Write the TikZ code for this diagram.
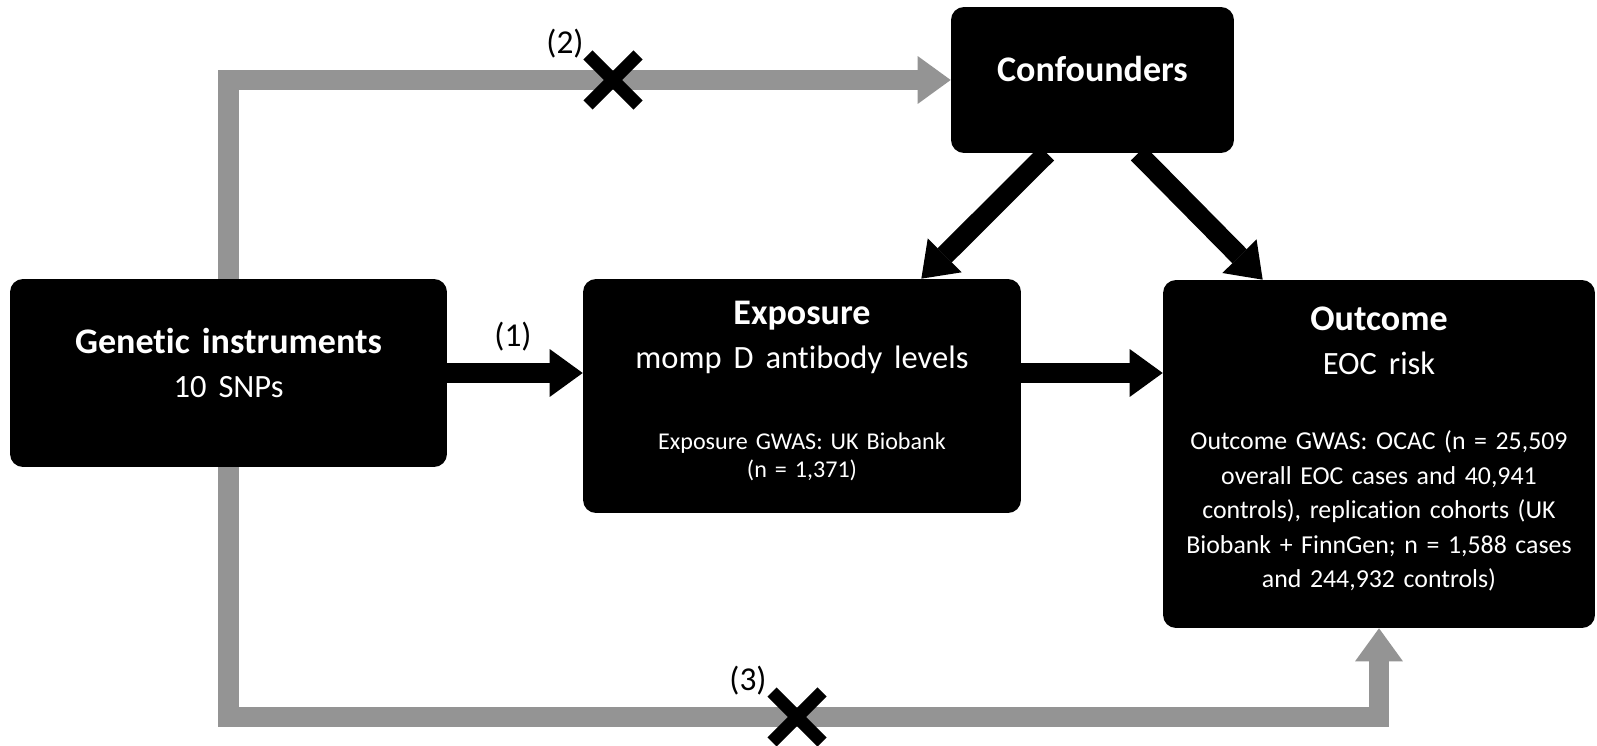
\documentclass[tikz,border=0pt]{standalone}
\usepackage{fontspec}
\setmainfont[Ligatures=CommonOff]{Carlito}
\usetikzlibrary{arrows.meta,positioning}

\definecolor{arrowgrey}{RGB}{148,148,148}
\newcommand{\subline}{\fontsize{18.5}{24.5}\selectfont}

\tikzset{
	box/.style={fill=black, rounded corners=0.26cm, inner sep=0pt},
	head/.style={text=white, text width=8.4cm, align=center, anchor=base, font=\fontsize{20.5}{24.5}\selectfont},
	note/.style={text=white, text width=8.4cm, align=center, anchor=base, font=\fontsize{14.7}{19.6}\selectfont},
	blackarrow/.style={draw=black, line width=11.4pt, -{Triangle[width=27.3pt,length=18.8pt,line width=0pt]}},
	greyarrow/.style={draw=arrowgrey, line width=11.4pt, -{Triangle[width=27.3pt,length=18.8pt,line width=0pt]}},
	cross/.style={draw=black, line width=7.4pt},
	tag/.style={font=\fontsize{19}{23}\selectfont}
}

\begin{document}
\begin{tikzpicture}[x=0.02cm,y=-0.02cm]
	\useasboundingbox (0,0) rectangle (1597,746);
	
	% Boxes
	\node[box, minimum width=8.74cm, minimum height=3.76cm] (gen) at (228.5,373) {};
	\node[box, minimum width=8.76cm, minimum height=4.68cm] (expo) at (802,396) {};
	\node[box, minimum width=8.64cm, minimum height=6.96cm] (outc) at (1379,454) {};
	\node[box, minimum width=5.66cm, minimum height=2.92cm] (conf) at (1092.5,80) {};
	
	% Texts
	\node[head] (gentext) at (228.5,354) {\textbf{Genetic instruments}\\{\subline 10 SNPs}};
	\node[head] (expotext) at (802,325) {\textbf{Exposure}\\{\subline momp D antibody levels}};
	\node[note, font=\fontsize{13.7}{15.7}\selectfont] (exponote) at (802,450) {Exposure GWAS: UK Biobank\\(n = 1,371)};
	\node[head] (outctext) at (1379,331) {\textbf{Outcome}\\{\subline EOC risk}};
	\node[note] (outcnote) at (1379,450) {Outcome GWAS: OCAC (n = 25,509\\overall EOC cases and 40,941\\controls), replication cohorts (UK\\Biobank + FinnGen; n = 1,588 cases\\and 244,932 controls)};
	\node[head] (conftext) at (1092.5,82) {\textbf{Confounders}};
	
	% Grey paths
	\draw[greyarrow] (gen.north) |- (conf.west);
	\draw[greyarrow] (gen.south) -- ++(0,250) -| (outc.south);
	
	% Black arrows
	\draw[blackarrow] (gen.east) -- (gen.east -| expo.west);
	\draw[blackarrow] (gen.east -| expo.east) -- (gen.east -| outc.west);
	\draw[blackarrow] ([xshift=-0.91cm]conf.south) -- ([xshift=-2cm]expo.north east);
	\draw[blackarrow] ([xshift=0.91cm]conf.south) -- ([xshift=2cm]outc.north west);
	
	% Crosses
	\coordinate (cr2) at (613,80);
	\coordinate (cr3) at (797,717);
	\foreach \c in {cr2,cr3} {
		\draw[cross] ([shift={(-25,-25)}]\c) -- ([shift={(25,25)}]\c);
		\draw[cross] ([shift={(-25,25)}]\c) -- ([shift={(25,-25)}]\c);
	}
	
	% Labels
	\node[tag] (lab1) at (513,337) {(1)};
	\node[tag] (lab2) at (565,44) {(2)};
	\node[tag] (lab3) at (748,681) {(3)};
\end{tikzpicture}
\end{document}
